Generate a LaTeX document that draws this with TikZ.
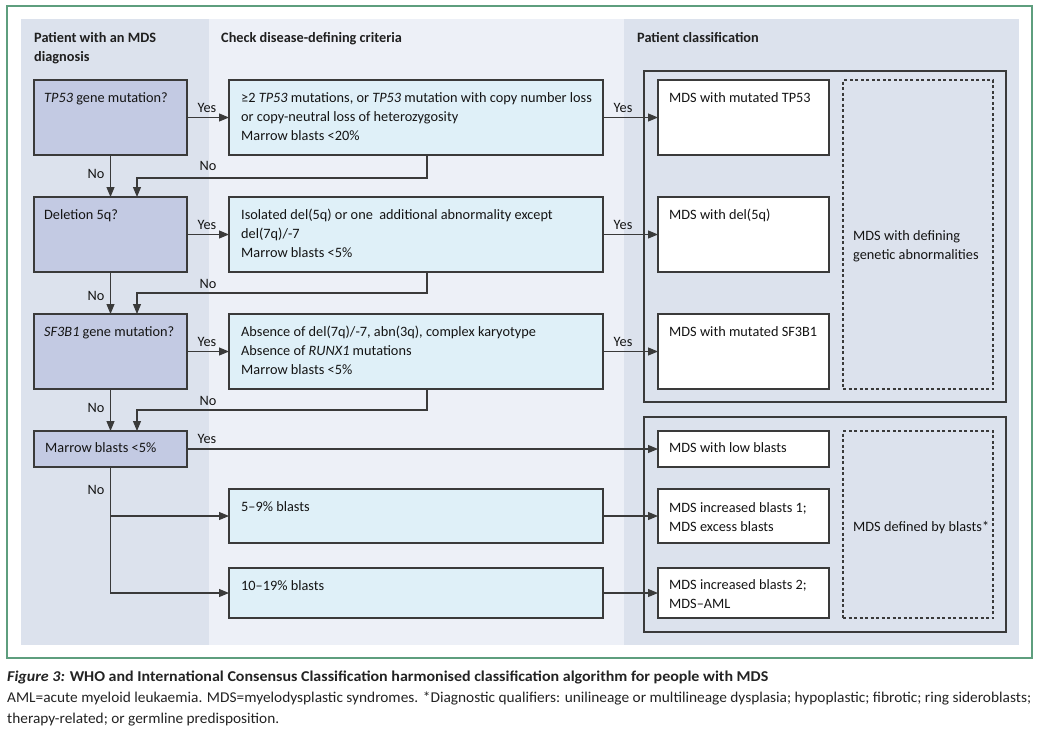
\documentclass[tikz,border=0pt]{standalone}
\usepackage{fontspec}
\usepackage{graphicx}
\setmainfont{Carlito}
\usetikzlibrary{arrows.meta}
\definecolor{frameg}{HTML}{5E9E7E}
\definecolor{colA}{HTML}{DCE2ED}
\definecolor{colB}{HTML}{EDF0F7}
\definecolor{qfill}{HTML}{C3CAE3}
\definecolor{cfill}{HTML}{DFF0F8}
\definecolor{linec}{HTML}{3A3A3A}
\definecolor{captc}{HTML}{232323}
\newcommand\bodyfont{\fontsize{14.3}{19}\selectfont}
\newcommand\capfont{\fontsize{15}{19}\selectfont}
\newcommand\mkbox[6]{\node[#1, minimum width={#4-#2}, minimum height={#5-#3}] (#6) at ({(#2+#4)/2},{(#3+#5)/2}) {};}
\begin{document}
\begin{tikzpicture}[x=1pt,y=-1pt,
  box/.style={draw=linec, line width=1.2pt, inner sep=0pt, outer sep=0pt},
  qbox/.style={box, fill=qfill},
  cbox/.style={box, fill=cfill},
  wbox/.style={box, fill=white},
  grp/.style={box, line width=1.3pt},
  dsh/.style={draw=linec, line width=1.1pt, dash pattern=on 3pt off 2.5pt, inner sep=0pt, outer sep=0pt},
  txt/.style={anchor=north west, inner sep=0pt, align=left, font=\bodyfont, text=black!92},
  hdr/.style={anchor=north west, inner sep=0pt, align=left, font=\bodyfont\bfseries, text=black!88},
  lbl/.style={font=\bodyfont, inner sep=0pt, text=black!92},
  arr/.style={draw=linec, line width=1.1pt, -{Triangle[length=10pt,width=8pt]}},
  capt/.style={anchor=base west, inner sep=0pt, font=\capfont, text=captc},
]
\useasboundingbox (0,0) rectangle (1039,734);
\fill[white] (0,0) rectangle (1039,734);
% backgrounds
\fill[colA] (21,19) rectangle (209,645);
\fill[colB] (209,19) rectangle (624,645);
\fill[colA] (624,19) rectangle (1019,645);
\draw[frameg, line width=1.5pt] (7,6) rectangle (1032,658);
% headers
\node[hdr] (h1) at (34,29) {\strut Patient with an MDS\\diagnosis};
\node[hdr] (h2) at (221,29) {\strut Check disease-defining criteria};
\node[hdr] (h3) at (637,29) {\strut Patient classification};
% group boxes
\mkbox{grp}{644}{71}{1006}{402}{g1}
\mkbox{grp}{644}{417}{1006}{632}{g2}
\mkbox{dsh}{843}{80}{993}{389}{d1}
\mkbox{dsh}{843}{431}{993}{618}{d2}
% question boxes
\mkbox{qbox}{34}{80}{187}{155}{q1}
\mkbox{qbox}{34}{197}{187}{272}{q2}
\mkbox{qbox}{34}{314}{187}{389}{q3}
\mkbox{qbox}{34}{431}{187}{467}{q4}
% criteria boxes
\mkbox{cbox}{229}{80}{603}{155}{c1}
\mkbox{cbox}{229}{197}{603}{272}{c2}
\mkbox{cbox}{229}{314}{603}{389}{c3}
\mkbox{cbox}{229}{489}{603}{543}{c4}
\mkbox{cbox}{229}{568}{603}{618}{c5}
% white result boxes
\mkbox{wbox}{658}{80}{829}{155}{w1}
\mkbox{wbox}{658}{197}{829}{272}{w2}
\mkbox{wbox}{658}{314}{829}{389}{w3}
\mkbox{wbox}{658}{431}{829}{467}{w4}
\mkbox{wbox}{658}{489}{829}{543}{w5}
\mkbox{wbox}{658}{568}{829}{618}{w6}
% texts
\node[txt] (tq1) at ([shift={(10,9)}]q1.north west) {\strut\textit{TP53} gene mutation?};
\node[txt] (tq2) at ([shift={(10,9)}]q2.north west) {\strut Deletion 5q?};
\node[txt] (tq3) at ([shift={(10,9)}]q3.north west) {\strut\textit{SF3B1} gene mutation?};
\node[txt] (tq4) at ([shift={(11,8)}]q4.north west) {\strut Marrow blasts <5\%};
\node[txt] (tc1) at ([shift={(12,9)}]c1.north west) {\strut ≥2 \textit{TP53} mutations, or \textit{TP53} mutation with copy number loss\\or copy-neutral loss of heterozygosity\\Marrow blasts <20\%};
\node[txt] (tc2) at ([shift={(12,9)}]c2.north west) {\strut Isolated del(5q) or one~ additional abnormality except\\del(7q)/-7\\Marrow blasts <5\%};
\node[txt] (tc3) at ([shift={(12,9)}]c3.north west) {\strut Absence of del(7q)/-7, abn(3q), complex karyotype\\Absence of \textit{RUNX1} mutations\\Marrow blasts <5\%};
\node[txt] (tc4) at ([shift={(12,9)}]c4.north west) {\strut 5--9\% blasts};
\node[txt] (tc5) at ([shift={(12,9)}]c5.north west) {\strut 10--19\% blasts};
\node[txt] (tw1) at ([shift={(11,9)}]w1.north west) {\strut MDS with mutated TP53};
\node[txt] (tw2) at ([shift={(11,9)}]w2.north west) {\strut MDS with del(5q)};
\node[txt] (tw3) at ([shift={(11,9)}]w3.north west) {\strut MDS with mutated SF3B1};
\node[txt] (tw4) at ([shift={(11,8)}]w4.north west) {\strut MDS with low blasts};
\node[txt] (tw5) at ([shift={(11,10)}]w5.north west) {\strut MDS increased blasts 1;\\MDS excess blasts};
\node[txt] (tw6) at ([shift={(11,8)}]w6.north west) {\strut MDS increased blasts 2;\\MDS--AML};
\node[txt] (td1) at (853,227) {\strut MDS with defining\\genetic abnormalities};
\node[txt] (td2) at (853,518) {\strut MDS defined by blasts*};
% yes arrows
\draw[arr] (q1.east) -- (c1.west);
\draw[arr] (c1.east) -- (w1.west);
\draw[arr] (q2.east) -- (c2.west);
\draw[arr] (c2.east) -- (w2.west);
\draw[arr] (q3.east) -- (c3.west);
\draw[arr] (c3.east) -- (w3.west);
\draw[arr] (q4.east) -- (w4.west);
\draw[arr] (c4.east) -- (w5.west);
\draw[arr] (c5.east) -- (w6.west);
\node[lbl] (y1) at (207,108) {Yes};
\node[lbl] (y2) at (623,108) {Yes};
\node[lbl] (y3) at (207,225) {Yes};
\node[lbl] (y4) at (623,225) {Yes};
\node[lbl] (y5) at (207,342) {Yes};
\node[lbl] (y6) at (623,342) {Yes};
\node[lbl] (y7) at (207,439) {Yes};
% no arrows
\draw[arr] (q1.south) -- (q2.north);
\draw[arr] (q2.south) -- (q3.north);
\draw[arr] (q3.south) -- (q4.north);
\coordinate (j1) at (427,178); \coordinate (k1) at (137,178);
\coordinate (j2) at (427,293); \coordinate (k2) at (137,293);
\coordinate (j3) at (427,410); \coordinate (k3) at (137,410);
\draw[arr] (c1.south -| j1) -- (j1) -- (k1) -- (k1 |- q2.north);
\draw[arr] (c2.south -| j2) -- (j2) -- (k2) -- (k2 |- q3.north);
\draw[arr] (c3.south -| j3) -- (j3) -- (k3) -- (k3 |- q4.north);
\draw[arr] (q4.south) -- (q4.south |- c5.west) -- (c5.west);
\draw[arr] (q4.south |- c4.west) -- (c4.west);
\node[lbl] (n1) at (96,174) {No};
\node[lbl] (n2) at (208,166) {No};
\node[lbl] (n3) at (96,296) {No};
\node[lbl] (n4) at (208,284) {No};
\node[lbl] (n5) at (96,408) {No};
\node[lbl] (n6) at (208,401) {No};
\node[lbl] (n7) at (96,490) {No};
% caption
\node[capt] (cap1) at (7,681) {\resizebox{761pt}{\height}{\bfseries\textit{Figure 3:} WHO and International Consensus Classification harmonised classification algorithm for people with MDS}};
\node[capt] (cap2) at (7,702) {\resizebox{1024pt}{\height}{AML=acute myeloid leukaemia. MDS=myelodysplastic syndromes. *Diagnostic qualifiers: unilineage or multilineage dysplasia; hypoplastic; fibrotic; ring sideroblasts;}};
\node[capt] (cap3) at (7,723) {\resizebox{272pt}{\height}{therapy-related; or germline predisposition.}};
\end{tikzpicture}
\end{document}
